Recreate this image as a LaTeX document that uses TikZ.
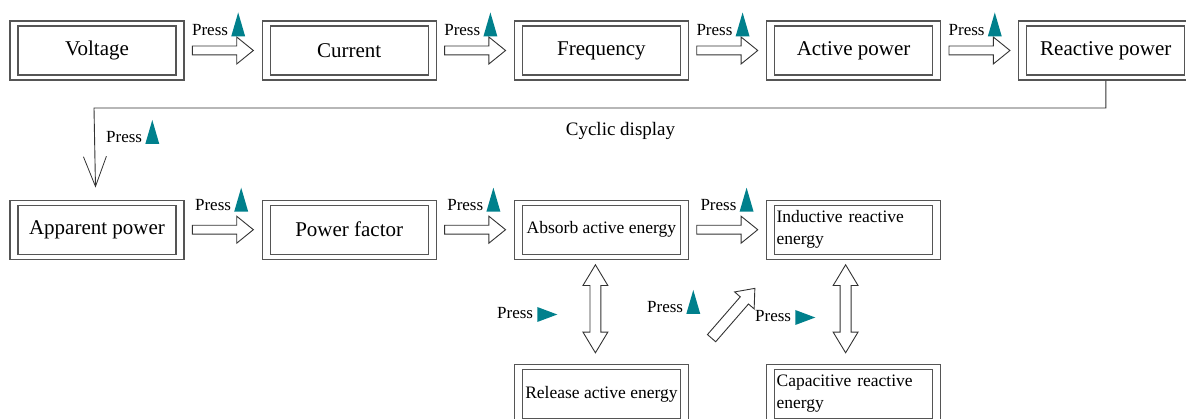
\documentclass[tikz,border=0pt]{standalone}
\usepackage{fontspec}
\setmainfont{Liberation Serif}
\usepackage{xcolor}
\usetikzlibrary{
	shapes.arrows,
	arrows.meta,
	positioning,
	calc
}
\definecolor{keycol}{RGB}{0,128,140}
\definecolor{framecol}{RGB}{85,85,85}

\begin{document}
\begin{tikzpicture}[
				x=1pt, y=-1pt,
				panel/.style={
					rectangle, draw=framecol, line width=1.2pt,
					minimum width=174pt, minimum height=59pt,
					align=center, font=\fontsize{21}{25}\selectfont,
					path picture={
						\draw[framecol, line width=1.2pt]
						([shift={(8pt,-5pt)}]path picture bounding box.north west) rectangle
						([shift={(-8pt,5pt)}]path picture bounding box.south east);
					}
				},
				smallpanel/.style={
					panel, font=\fontsize{17.5}{22}\selectfont
				},
				notepanel/.style={
					smallpanel, text width=154pt, align=left
				},
				blockarrow/.style={
					single arrow, draw=black!80, fill=white, line width=0.9pt,
					minimum height=61pt, text height=8pt, text depth=0pt, inner sep=0pt,
					single arrow head extend=9pt, single arrow tip angle=78
				},
				dblarrow/.style={
					double arrow, draw=black!80, fill=white, line width=0.9pt,
					minimum height=88pt, text height=10pt, text depth=0pt, inner sep=0pt,
					double arrow head extend=7pt, double arrow tip angle=62, rotate=90
				},
				diagarrow/.style={
					blockarrow, minimum height=66pt, text height=10pt,
					single arrow head extend=7.5pt, rotate=49
				},
				press/.style={
					inner sep=0pt, anchor=base west, font=\fontsize{17}{20}\selectfont
				},
				cycleline/.style={
					draw=black!80, line width=0.9pt,
					-{Straight Barb[length=30pt, width=23pt, line width=0.8pt]}
				},
				pics/upkey/.style={code={
					\fill[keycol] (3,1) -- (17,1) -- (10,-23) -- cycle;
				}},
				pics/rightkey/.style={code={
					\fill[keycol] (4,3) -- (4,-12) -- (24,-4.5) -- cycle;
				}}
				]
				\useasboundingbox (0,0) rectangle (1186,419);
				
				% first row
				\node[panel] (voltage) at (97,50.5) {Voltage};
				\node[panel, right=77pt of voltage] (current) {Current};
				\node[panel, right=77pt of current] (frequency) {Frequency};
				\node[panel, right=77pt of frequency] (active) {Active power};
				\node[panel, right=77pt of active] (reactive) {Reactive power};
				
				% second row
				\node[panel, below=119pt of voltage] (apparent) {Apparent power};
				\node[panel, right=77pt of apparent] (factor) {Power factor};
				\node[smallpanel, right=77pt of factor] (absorb) {Absorb active energy};
				\node[notepanel, right=77pt of absorb] (inductive) {Inductive reactive\\energy};
				
				% third row
				\node[smallpanel, below=104pt of absorb] (release) {Release active energy};
				\node[notepanel, below=104pt of inductive] (capacitive) {Capacitive reactive\\energy};
				
				% block arrows between the panels
				\path (voltage) -- node[blockarrow, xshift=-3pt] (a1) {} (current);
				\path (current) -- node[blockarrow, xshift=-3pt] (a2) {} (frequency);
				\path (frequency) -- node[blockarrow, xshift=-3pt] (a3) {} (active);
				\path (active) -- node[blockarrow, xshift=-3pt] (a4) {} (reactive);
				\path (apparent) -- node[blockarrow, xshift=-3pt] (a5) {} (factor);
				\path (factor) -- node[blockarrow, xshift=-3pt] (a6) {} (absorb);
				\path (absorb) -- node[blockarrow, xshift=-3pt] (a7) {} (inductive);
				
				% up and down between the energies
				\path (absorb) -- node[xshift=-6pt, yshift=3pt, dblarrow] (d1) {} (release);
				\path (inductive) -- node[xshift=-8pt, yshift=3pt, dblarrow] (d2) {} (capacitive);
				\path (release.north east) -- node[xshift=3.5pt, yshift=-4pt, diagarrow] (d3) {} (inductive.south west);
				
				% back to the start of the second row
				\draw[cycleline] (reactive.south) |- (94,108) -- ([shift={(-1.5pt,12pt)}]apparent.north);
				\node[font=\fontsize{19}{23}\selectfont] (cyclic) at (620.5,131) {Cyclic display};
				
				% key labels
				\node[press] (p1) at ([shift={(0,-15)}]a1.west) {Press};
				\node[press] (p2) at ([shift={(0,-15)}]a2.west) {Press};
				\node[press] (p3) at ([shift={(0,-15)}]a3.west) {Press};
				\node[press] (p4) at ([shift={(0,-15)}]a4.west) {Press};
				\node[press] (p5) at ([shift={(3,-19)}]a5.west) {Press};
				\node[press] (p6) at ([shift={(3,-19)}]a6.west) {Press};
				\node[press] (p7) at ([shift={(4,-19)}]a7.west) {Press};
				\node[press] (p8) at (106,143) {Press};
				\node[press] (p9) at (497,319) {Press};
				\node[press] (p10) at (647,313) {Press};
				\node[press] (p11) at (755,322) {Press};
				
				\foreach \p in {p1,p2,p3,p4,p5,p6,p7,p8,p10}
				\pic at (\p.base east) {upkey};
				\pic at (p9.base east) {rightkey};
				\pic at (p11.base east) {rightkey};
			\end{tikzpicture}
\end{document}
